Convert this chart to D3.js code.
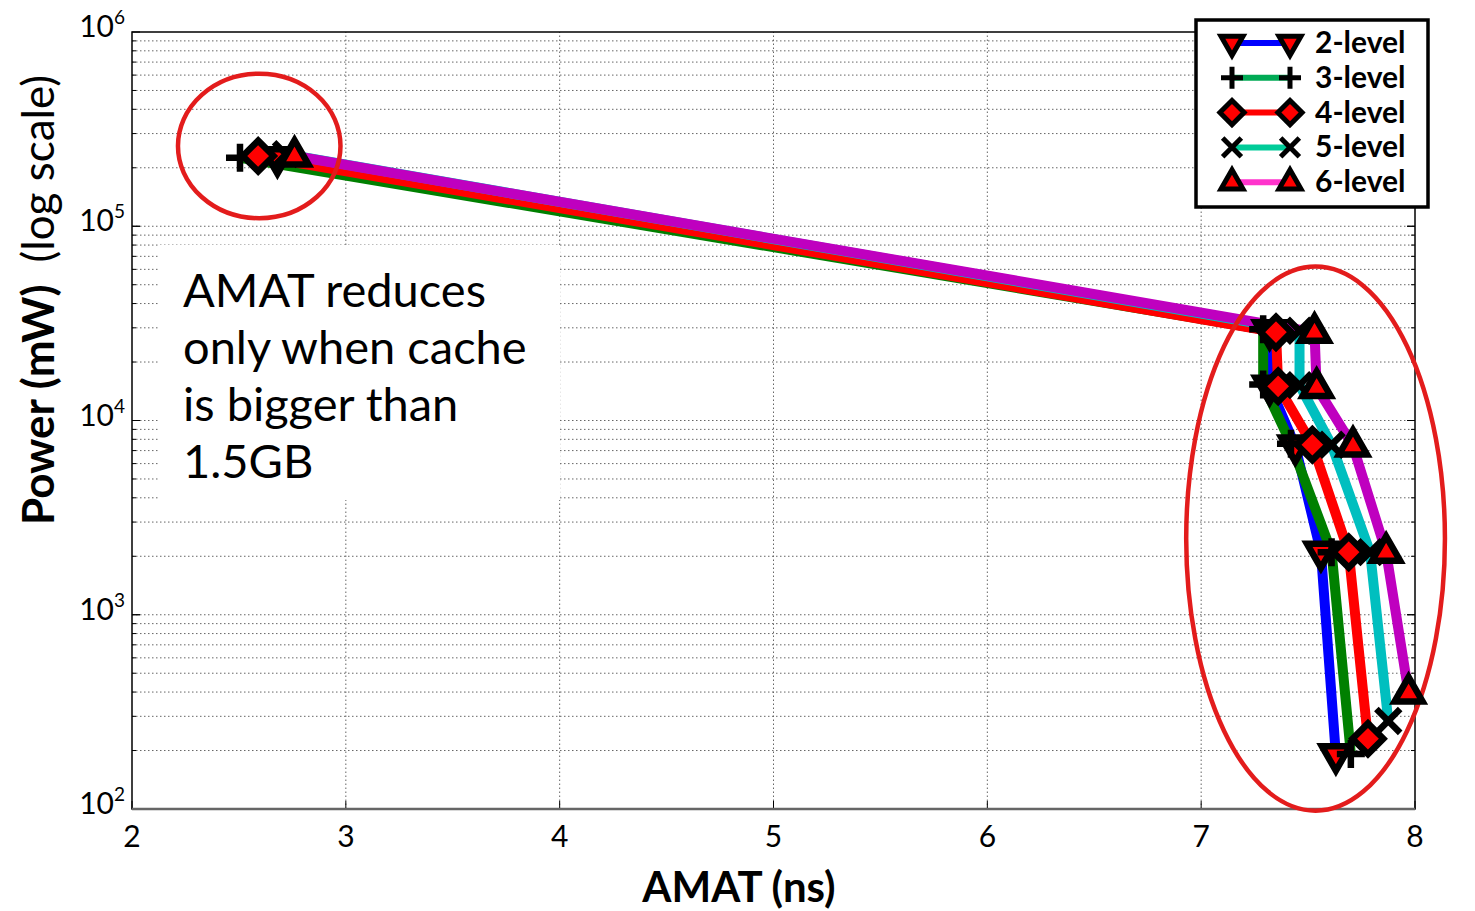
<!DOCTYPE html>
<html>
<head>
<meta charset="utf-8">
<script src="https://cdn.jsdelivr.net/npm/d3@7"></script>
<style>
  body { margin: 0; background: #fff; }
  svg { display: block; font-family: Lato, "Open Sans", sans-serif; }
  .grid line { stroke: #666; stroke-width: 1; stroke-dasharray: 1.5,2.5; }
</style>
</head>
<body>
<svg id="chart" width="1475" height="911"></svg>
<script>
// series (one entry per hierarchy depth)
const levels = ["2-level", "3-level", "4-level", "5-level", "6-level"];
const markers = ["triDown", "plus", "diamond", "cross", "triUp"];
const colors = ["#0000ff", "#008000", "#ff0000", "#00bfbf", "#bf00bf"];
const legendColors = ["#0000ff", "#00aa55", "#ff0000", "#00cc99", "#ff33cc"];

// AMAT (ns) per series
const amat = [
  [2.68, 7.32, 7.32, 7.44, 7.56, 7.63],
  [2.505, 7.29, 7.29, 7.42, 7.61, 7.70],
  [2.59, 7.35, 7.36, 7.52, 7.69, 7.78],
  [2.72, 7.46, 7.46, 7.61, 7.79, 7.875],
  [2.76, 7.53, 7.54, 7.71, 7.865, 7.97]
];
// Power (mW) per series
const power = [
  [225000, 29000, 15000, 7400, 2100, 190],
  [225000, 29500, 15300, 7600, 2100, 192],
  [230000, 28500, 15000, 7500, 2100, 230],
  [235000, 29000, 15200, 7500, 2100, 284],
  [230000, 28500, 14800, 7400, 2100, 396]
];

const xTicks = [2, 3, 4, 5, 6, 7, 8];
const yTicks = [1e2, 1e3, 1e4, 1e5, 1e6];

const noteLines = ["AMAT reduces", "only when cache", "is bigger than", "1.5GB"];
// highlighted regions, in data units: [x0, x1, y0, y1]
const highlights = [
  [2.215, 2.975, 1.1e5, 6.1e5],
  [6.93, 8.14, 98, 62000]
];

const WIDTH = 1475, HEIGHT = 911;
const MARGIN = { TOP: 32, LEFT: 132, RIGHT: 60, BOTTOM: 102 };

const svg = d3.select('#chart');
const x = d3.scaleLinear().domain([2, 8]).range([MARGIN.LEFT, WIDTH - MARGIN.RIGHT]);
const y = d3.scaleLog().domain([1e2, 1e6]).range([HEIGHT - MARGIN.BOTTOM, MARGIN.TOP]);

// grid
const minorY = [];
for (let k = 2; k < 6; k++) for (let m = 1; m < 10; m++) if (!(k === 2 && m === 1)) minorY.push(m * Math.pow(10, k));
const grid = svg.append('g').attr('class', 'grid');
grid.selectAll('.gy').data(minorY).enter().append('line')
  .attr('x1', x(2)).attr('x2', x(8))
  .attr('y1', d => y(d)).attr('y2', d => y(d));
grid.selectAll('.gx').data(xTicks.slice(1, -1)).enter().append('line')
  .attr('x1', d => x(d)).attr('x2', d => x(d))
  .attr('y1', y(1e2)).attr('y2', y(1e6));

// white panel behind the note
svg.append('rect')
  .attr('x', 160).attr('y', 245).attr('width', 400).attr('height', 255)
  .attr('fill', '#fff');

// small inner ticks
const tickG = svg.append('g').attr('stroke', '#000').attr('stroke-width', 1);
tickG.selectAll('.tx').data(xTicks).enter().append('line')
  .attr('x1', d => x(d)).attr('x2', d => x(d))
  .attr('y1', y(1e2)).attr('y2', y(1e2) - 8);
tickG.selectAll('.tyl').data(minorY.concat(yTicks)).enter().append('line')
  .attr('x1', x(2)).attr('x2', d => x(2) + (Math.log10(d) % 1 === 0 ? 8 : 4))
  .attr('y1', d => y(d)).attr('y2', d => y(d));
tickG.selectAll('.tyr').data(minorY.concat(yTicks)).enter().append('line')
  .attr('x1', x(8)).attr('x2', d => x(8) - (Math.log10(d) % 1 === 0 ? 8 : 4))
  .attr('y1', d => y(d)).attr('y2', d => y(d));

// axes box
svg.append('rect')
  .attr('x', x(2)).attr('y', y(1e6))
  .attr('width', x(8) - x(2)).attr('height', y(1e2) - y(1e6))
  .attr('fill', 'none').attr('stroke', '#000').attr('stroke-width', 1.5);
svg.append('line')
  .attr('x1', x(2)).attr('x2', x(8)).attr('y1', y(1e2)).attr('y2', y(1e2))
  .attr('stroke', '#666').attr('stroke-width', 2.5);

// tick labels
svg.selectAll('.xl').data(xTicks).enter().append('text')
  .attr('x', d => x(d)).attr('y', y(1e2) + 38)
  .attr('text-anchor', 'middle').attr('font-size', 30).text(d => d);
const yl = svg.selectAll('.yl').data(yTicks).enter().append('text')
  .attr('x', x(2) - 7).attr('y', d => y(d) + 5)
  .attr('text-anchor', 'end').attr('font-size', 30);
yl.append('tspan').text('10');
yl.append('tspan').attr('dy', -13).attr('font-size', 19).text(d => Math.round(Math.log10(d)));

// axis titles
svg.append('text')
  .attr('x', 739).attr('y', 902)
  .attr('text-anchor', 'middle').attr('font-size', 42).attr('font-weight', 'bold')
  .text('AMAT (ns)');
const yt = svg.append('text')
  .attr('transform', 'translate(54,300) rotate(-90)')
  .attr('text-anchor', 'middle').attr('font-size', 44);
yt.append('tspan').attr('font-weight', 'bold').text('Power (mW)');
yt.append('tspan').text('\u2002(log scale)');

// note
svg.append('text')
  .attr('x', 183).attr('font-size', 47)
  .selectAll('tspan').data(noteLines).enter().append('tspan')
  .attr('x', 183).attr('y', (d, i) => 307 + i * 57)
  .text(d => d);

// marker shapes
function markerPath(type, s) {
  const h = s * 0.87;
  switch (type) {
    case 'triDown': return `M${-s},${-h * 0.7}L${s},${-h * 0.7}L0,${h * 1.3}Z`;
    case 'triUp': return `M${-s},${h * 0.7}L${s},${h * 0.7}L0,${-h * 1.3}Z`;
    case 'diamond': return `M0,${-s * 1.1}L${s * 1.1},0L0,${s * 1.1}L${-s * 1.1},0Z`;
    case 'plus': return `M${-s},0H${s}M0,${-s}V${s}`;
    case 'cross': return `M${-s * 0.85},${-s * 0.85}L${s * 0.85},${s * 0.85}M${-s * 0.85},${s * 0.85}L${s * 0.85},${-s * 0.85}`;
  }
}
function drawMarker(g, type, cx, cy, s, sw) {
  g.append('path')
    .attr('transform', `translate(${cx},${cy})`)
    .attr('d', markerPath(type, s))
    .attr('fill', (type === 'plus' || type === 'cross') ? 'none' : '#ff0000')
    .attr('stroke', '#000').attr('stroke-width', sw)
    .attr('stroke-linejoin', 'miter');
}

const series = levels.map((name, i) => ({
  name, i,
  pts: amat[i].map((a, j) => ({ a, p: power[i][j] }))
}));

const line = d3.line().x(d => x(d.a)).y(d => y(d.p));
const plot = svg.append('g');
series.forEach(s => {
  plot.append('path')
    .attr('d', line(s.pts))
    .attr('fill', 'none').attr('stroke', colors[s.i])
    .attr('stroke-width', 10).attr('stroke-linejoin', 'round');
});

// highlight ellipses
svg.selectAll('.hl').data(highlights).enter().append('ellipse')
  .attr('cx', d => (x(d[0]) + x(d[1])) / 2)
  .attr('cy', d => (y(d[2]) + y(d[3])) / 2)
  .attr('rx', d => (x(d[1]) - x(d[0])) / 2)
  .attr('ry', d => (y(d[2]) - y(d[3])) / 2)
  .attr('fill', 'none').attr('stroke', '#e31c1c').attr('stroke-width', 4.5);

// markers (diamonds end up on top)
const markG = svg.append('g');
[0, 1, 3, 4, 2].forEach(i => {
  series[i].pts.forEach(d => drawMarker(markG, markers[i], x(d.a), y(d.p), 14, 6.5));
});

// legend
const lg = svg.append('g');
lg.append('rect')
  .attr('x', 1196).attr('y', 20).attr('width', 232).attr('height', 187)
  .attr('fill', '#fff').attr('stroke', '#000').attr('stroke-width', 3.5);
levels.forEach((name, i) => {
  const ly = 43 + i * 34.8;
  lg.append('line')
    .attr('x1', 1232).attr('x2', 1290).attr('y1', ly).attr('y2', ly)
    .attr('stroke', legendColors[i]).attr('stroke-width', 6);
  drawMarker(lg, markers[i], 1232, ly, 11, 5);
  drawMarker(lg, markers[i], 1290, ly, 11, 5);
  lg.append('text')
    .attr('x', 1315).attr('y', ly + 10)
    .attr('font-size', 30).attr('font-weight', 'bold')
    .text(name);
});
</script>
</body>
</html>
